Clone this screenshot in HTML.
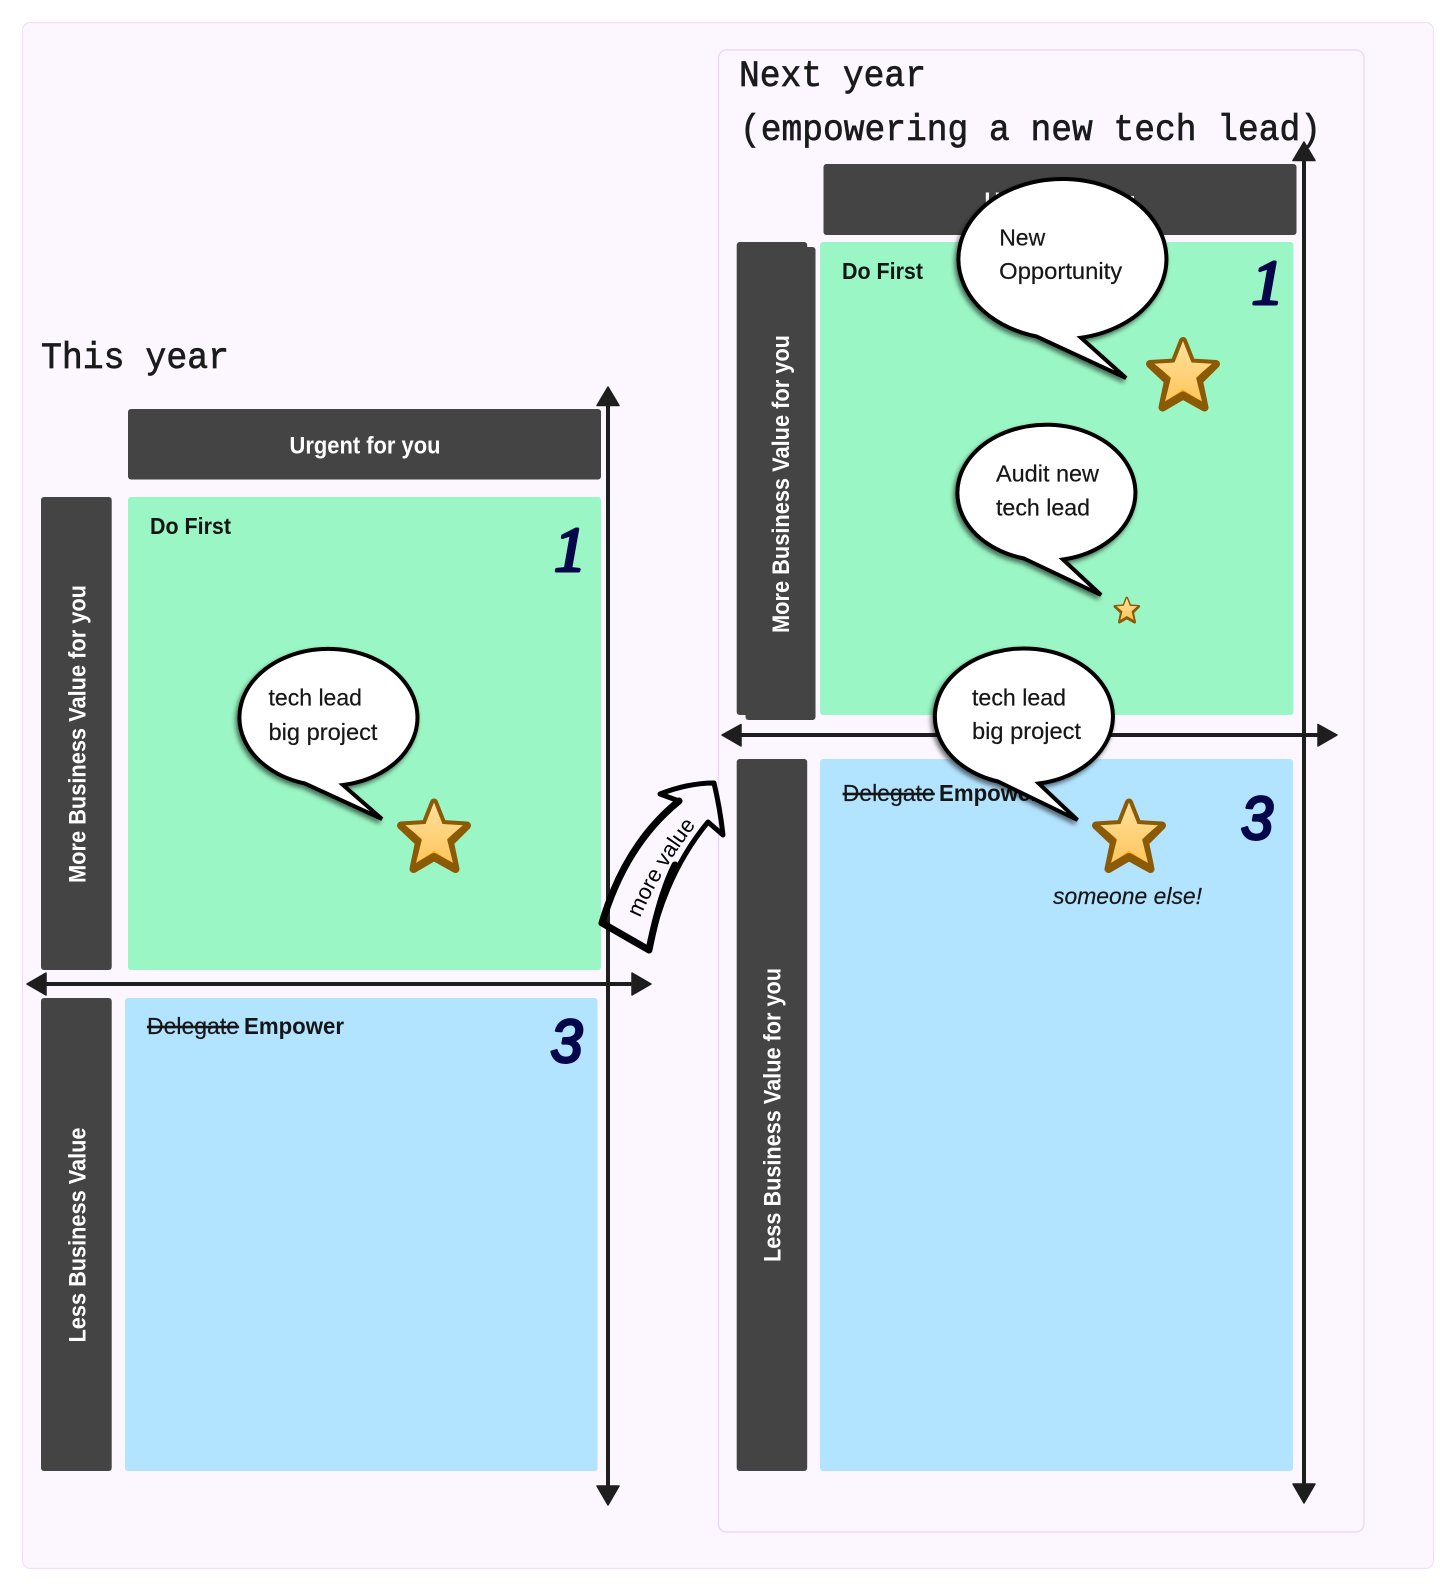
<!DOCTYPE html>
<html lang="en">
<head>
<meta charset="utf-8">
<title>Urgency matrix: this year and next year</title>
<style>
html,body{margin:0;padding:0;background:#fff;width:1456px;height:1591px;overflow:hidden}
svg{display:block}
.ui{font-family:"Liberation Sans",sans-serif;fill:#161616;font-size:23.5px}
.b{font-weight:bold}
.r{font-size:23.5px;stroke:#161616;stroke-width:.2}
.w{fill:#fff;font-weight:bold;font-size:24px}
.mono{font-family:"Liberation Mono",monospace;font-size:37.5px;fill:#1b1b1b;stroke:#1b1b1b;stroke-width:.7}
.dig{font-style:italic;fill:#06064a;stroke:#06064a;stroke-width:3;stroke-linejoin:round}
.one{font-family:"Liberation Serif",serif;font-size:64px}
.three{font-family:"Liberation Sans",sans-serif;font-size:60px}
.bubble{fill:#fff;stroke:#000;stroke-width:4;stroke-linejoin:miter;filter:url(#sh)}
.dark{fill:#444}
.green{fill:#9af6c4}
.blue{fill:#b2e3ff}
.ln{stroke:#1e1e1e;stroke-width:4;fill:none}
.hd{fill:#1e1e1e;stroke:#1e1e1e;stroke-width:1.5;stroke-linejoin:round}
</style>
</head>
<body>
<svg xmlns="http://www.w3.org/2000/svg" width="1456" height="1591" viewBox="0 0 1456 1591">
<defs>
  <filter id="sh" x="-20%" y="-20%" width="140%" height="140%">
    <feDropShadow dx="-2" dy="3" stdDeviation="2.5" flood-color="#000" flood-opacity=".55"/>
  </filter>
  <linearGradient id="sg" x1="0" y1="0" x2="0" y2="1">
    <stop offset="0" stop-color="#ffe3a3"/>
    <stop offset="1" stop-color="#ffc65c"/>
  </linearGradient>
  <clipPath id="sc"><polygon points="37,4.5 45.5,26 70,27.5 53,44.5 58.5,71 37,59 16.5,71 22,44.5 4,27.5 28.5,26"/></clipPath>
  <g id="star">
    <polygon points="37,4.5 45.5,26 70,27.5 53,44.5 58.5,71 37,59 16.5,71 22,44.5 4,27.5 28.5,26" fill="#ffa70f" stroke="#8a5a05" stroke-width="8" stroke-linejoin="round"/>
    <g clip-path="url(#sc)">
      <polygon points="37,-1 45,21.5 72,22 50,41 56,65 37,53 19,65 25,41 2,22 29,21.5" fill="url(#sg)"/>
    </g>
  </g>
</defs>

<!-- frames -->
<rect x="22.5" y="22.5" width="1411" height="1546" rx="8" fill="#fbf6ff" stroke="#f0e0ff" stroke-width="1.2"/>
<rect x="718.5" y="50" width="645.5" height="1482" rx="8" fill="#fbf6ff" stroke="#e8d4fd" stroke-width="1.2"/>

<!-- titles -->
<text class="mono" x="41" y="368" textLength="188" lengthAdjust="spacingAndGlyphs" xml:space="preserve">This year</text>
<text class="mono" x="739" y="86" textLength="187" lengthAdjust="spacingAndGlyphs" xml:space="preserve">Next year</text>
<text class="mono" x="740" y="140" textLength="581" lengthAdjust="spacingAndGlyphs" xml:space="preserve">(empowering a new tech lead)</text>

<!-- LEFT matrix -->
<rect class="dark" x="128" y="409" width="473" height="70.5" rx="3"/>
<rect class="dark" x="41" y="497" width="70.7" height="473" rx="3"/>
<rect class="green" x="128" y="497" width="473" height="473" rx="3"/>
<rect class="dark" x="41" y="998" width="70.7" height="473" rx="3"/>
<rect class="blue" x="125" y="998" width="472.5" height="473" rx="3"/>

<text class="ui w" x="365" y="453.5" text-anchor="middle" textLength="151" lengthAdjust="spacingAndGlyphs">Urgent for you</text>
<text class="ui w" transform="translate(85.5,734) rotate(-90)" text-anchor="middle" textLength="298" lengthAdjust="spacingAndGlyphs">More Business Value for you</text>
<text class="ui w" transform="translate(85.5,1235) rotate(-90)" text-anchor="middle" textLength="215" lengthAdjust="spacingAndGlyphs">Less Business Value</text>

<text class="ui b" x="150" y="534" textLength="81" lengthAdjust="spacingAndGlyphs">Do First</text>
<text class="ui r" x="147" y="1034" textLength="92" lengthAdjust="spacingAndGlyphs" text-decoration="line-through">Delegate</text>
<text class="ui b" x="244" y="1034" textLength="100" lengthAdjust="spacingAndGlyphs">Empower</text>

<text class="dig one" x="554" y="571">1</text>
<text class="dig three" x="550.5" y="1062" textLength="32" lengthAdjust="spacingAndGlyphs">3</text>

<!-- LEFT axes -->
<line class="ln" x1="608" y1="404" x2="608" y2="1487"/>
<polygon class="hd" points="608,387 619,405.5 597,405.5"/>
<polygon class="hd" points="608,1505 597,1486 619,1486"/>
<line class="ln" x1="44" y1="984" x2="634" y2="984"/>
<polygon class="hd" points="27,984 46,973 46,995"/>
<polygon class="hd" points="651,984 632,973 632,995"/>

<!-- LEFT bubble + star -->
<path class="bubble" d="M305,783.5 A89,68.5 0 1 1 343,785 L382,819 Z"/>
<text class="ui r" x="268.5" y="705.5" textLength="93.5" lengthAdjust="spacingAndGlyphs">tech lead</text>
<text class="ui r" x="268.5" y="740" textLength="109" lengthAdjust="spacingAndGlyphs">big project</text>
<use href="#star" x="397" y="798"/>

<!-- RIGHT matrix -->
<rect class="dark" x="823.5" y="164" width="473" height="71" rx="3"/>
<rect class="dark" x="736.7" y="242" width="70.5" height="473" rx="3"/>
<rect class="dark" x="745.5" y="247" width="70" height="473" rx="3"/>
<rect class="green" x="820" y="242" width="473.4" height="473" rx="3"/>
<rect class="dark" x="736.7" y="759" width="70.5" height="712" rx="3"/>
<rect class="blue" x="820" y="759" width="473" height="712" rx="3"/>

<text class="ui w" x="1060" y="209" text-anchor="middle" textLength="151" lengthAdjust="spacingAndGlyphs">Urgent for you</text>
<text class="ui w" transform="translate(789,484) rotate(-90)" text-anchor="middle" textLength="298" lengthAdjust="spacingAndGlyphs">More Business Value for you</text>
<text class="ui w" transform="translate(780.5,1115) rotate(-90)" text-anchor="middle" textLength="294" lengthAdjust="spacingAndGlyphs">Less Business Value for you</text>

<text class="ui b" x="842" y="279" textLength="81" lengthAdjust="spacingAndGlyphs">Do First</text>
<text class="ui r" x="842.7" y="801" textLength="92" lengthAdjust="spacingAndGlyphs" text-decoration="line-through">Delegate</text>
<text class="ui b" x="939" y="801" textLength="100" lengthAdjust="spacingAndGlyphs">Empower</text>

<text class="dig one" x="1251.5" y="304">1</text>
<text class="dig three" x="1241" y="839" textLength="32" lengthAdjust="spacingAndGlyphs">3</text>

<!-- RIGHT axes -->
<line class="ln" x1="1304" y1="158" x2="1304" y2="1486"/>
<polygon class="hd" points="1304,142 1315,160.5 1293,160.5"/>
<polygon class="hd" points="1304,1503 1293,1484 1315,1484"/>
<line class="ln" x1="738" y1="735" x2="1322" y2="735"/>
<polygon class="hd" points="722,735 741,724.5 741,746"/>
<polygon class="hd" points="1337,735 1318,724.5 1318,746"/>

<!-- RIGHT bubbles + stars -->
<path class="bubble" d="M1036.7,336.5 A104,80 0 1 1 1081,337.7 L1126,378 Z"/>
<text class="ui r" x="999.2" y="245.5" textLength="46" lengthAdjust="spacingAndGlyphs">New</text>
<text class="ui r" x="999.2" y="279" textLength="123" lengthAdjust="spacingAndGlyphs">Opportunity</text>
<use href="#star" x="1146" y="336.5"/>

<path class="bubble" d="M1024,558.5 A89,68 0 1 1 1063,559.5 L1101,595 Z"/>
<text class="ui r" x="996" y="481.5" textLength="103" lengthAdjust="spacingAndGlyphs">Audit new</text>
<text class="ui r" x="996" y="515.5" textLength="94" lengthAdjust="spacingAndGlyphs">tech lead</text>
<use href="#star" transform="translate(1113.5,596.5) scale(.36)"/>

<path class="bubble" d="M998,781.5 A89,68 0 1 1 1038.7,783.5 L1077.5,820 Z"/>
<text class="ui r" x="972" y="705.5" textLength="94" lengthAdjust="spacingAndGlyphs">tech lead</text>
<text class="ui r" x="972" y="739" textLength="109" lengthAdjust="spacingAndGlyphs">big project</text>
<use href="#star" x="1092" y="798"/>
<text class="ui r" x="1053" y="904" font-style="italic" textLength="149" lengthAdjust="spacingAndGlyphs">someone else!</text>

<!-- curved arrow between matrices -->
<path d="M602,923 Q625.5,844 679,801 L660,794 Q688,783 714,783 Q720,808 723,835 L708,822 Q665,874 649,950 Z" fill="none" stroke="#000" stroke-width="5" stroke-linejoin="round"/>
<path d="M679,801 Q625.5,844 602,923 L649,950 Q660,895 675,865" fill="none" stroke="#000" stroke-width="7" stroke-linejoin="round" stroke-linecap="round"/>
<path id="mv" d="M640,918 Q662,868 696,825" fill="none"/>
<text class="ui" style="font-size:22px;fill:#000"><textPath href="#mv">more value</textPath></text>
</svg>
</body>
</html>
